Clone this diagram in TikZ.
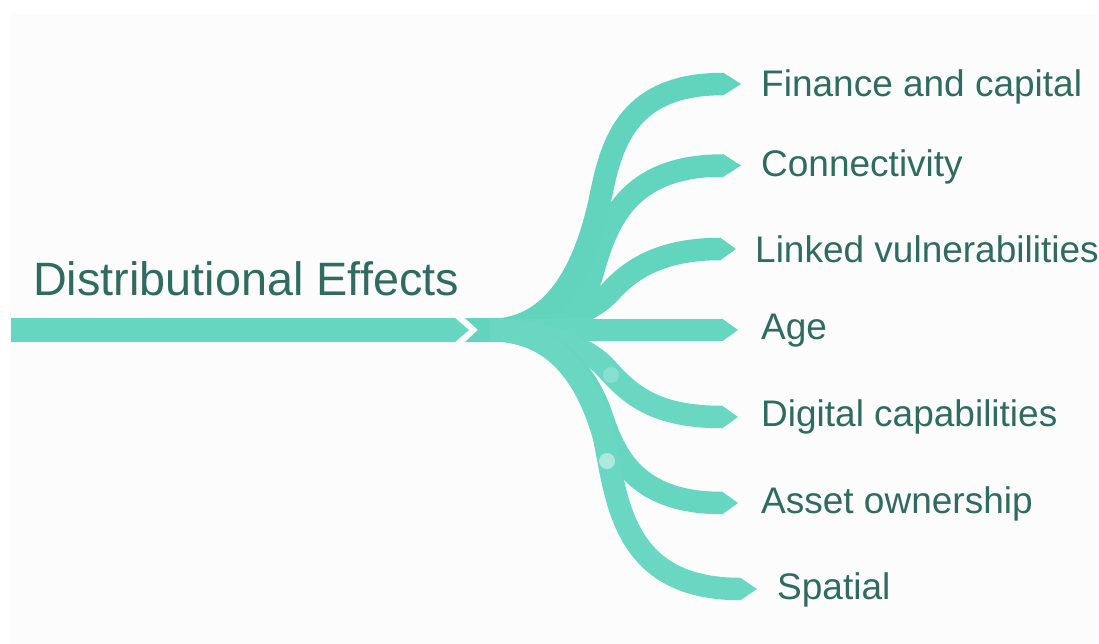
\documentclass[tikz,border=0pt]{standalone}
\usepackage{fontspec}
\setmainfont{Liberation Sans}
\definecolor{tealA}{HTML}{62D4BE}
\definecolor{tealB}{HTML}{63D5BF}
\definecolor{tealC}{HTML}{67D6C1}
\definecolor{tealD}{HTML}{6AD7C3}
\definecolor{txt}{HTML}{2F6B5F}
\definecolor{bgc}{HTML}{FCFCFC}
\tikzset{
  branch/.style={draw=#1,line width=22.5pt},
  tipshape/.style={fill=#1,draw=none},
  lab/.style={anchor=west,text=txt,inner sep=0pt,font=\fontsize{37}{40}\selectfont},
  dotmark/.style={circle,fill=white,draw=none,inner sep=0pt}
}
\newcommand{\tipat}[3]{\fill[tipshape=#1] ([yshift=-11.5pt]#2) -- ([xshift=#3pt]#2) -- ([yshift=11.5pt]#2) -- cycle;}
\begin{document}
\begin{tikzpicture}[x=1pt,y=-1pt]
\useasboundingbox (0,0) rectangle (1099,644);
\fill[white] (0,0) rectangle (1099,644);
\fill[bgc] (10,14) rectangle (1096,644);
\coordinate (hub) at (490,330);
\coordinate (f) at (723,84);
\coordinate (c) at (723,165.5);
\coordinate (l) at (720,249);
\coordinate (a) at (722,330);
\coordinate (d) at (722,417);
\coordinate (o) at (722,503);
\coordinate (s) at (740,589);
% main bar
\fill[tealC] (11,318) -- (455,318) -- (469,330) -- (455,342) -- (11,342) -- cycle;
\fill[tealA] (465,318) -- (500,318) -- (500,342) -- (465,342) -- (478,330) -- cycle;
% branches
\draw[branch=tealB] (hub) .. controls (540,330) and (590,315) .. (610,292) .. controls (630,270) and (660,249) .. (l);
\draw[branch=tealB] (hub) .. controls (545,330) and (580,315) .. (592,275) .. controls (606,225) and (625,165.5) .. (c);
\draw[branch=tealA] (hub) .. controls (560,330) and (588,258) .. (601,195) .. controls (612,140) and (630,84) .. (f);
\draw[branch=tealC] (hub) -- (a);
\draw[branch=tealD] (hub) .. controls (540,330) and (585,345) .. (606,368) .. controls (630,395) and (655,417) .. (d);
\draw[branch=tealC] (hub) .. controls (545,330) and (585,365) .. (602,417) .. controls (615,455) and (635,503) .. (o);
\draw[branch=tealD] (hub) .. controls (550,330) and (585,370) .. (604,437) .. controls (617,500) and (622,589) .. (s);
% tips
\tipat{tealA}{f}{18}
\tipat{tealB}{c}{18}
\tipat{tealB}{l}{16}
\tipat{tealC}{a}{16}
\tipat{tealD}{d}{16}
\tipat{tealC}{o}{16}
\tipat{tealD}{s}{17}
\node[dotmark,fill opacity=.2,minimum size=16pt] (d1) at (611,375) {};
\node[dotmark,fill opacity=.45,minimum size=16pt] (d2) at (607,461) {};
% labels
\node[lab,font=\fontsize{46.8}{50}\selectfont] (title) at (33,279) {Distributional Effects};
\node[lab] (tf) at (761,87) {Finance and capital};
\node[lab] (tc) at (761,167) {Connectivity};
\node[lab] (tl) at (755,249) {Linked vulnerabilities};
\node[lab] (ta) at (761,331) {Age};
\node[lab] (td) at (761,417) {Digital capabilities};
\node[lab] (to) at (761,504) {Asset ownership};
\node[lab] (ts) at (777,590) {Spatial};
\end{tikzpicture}
\end{document}
